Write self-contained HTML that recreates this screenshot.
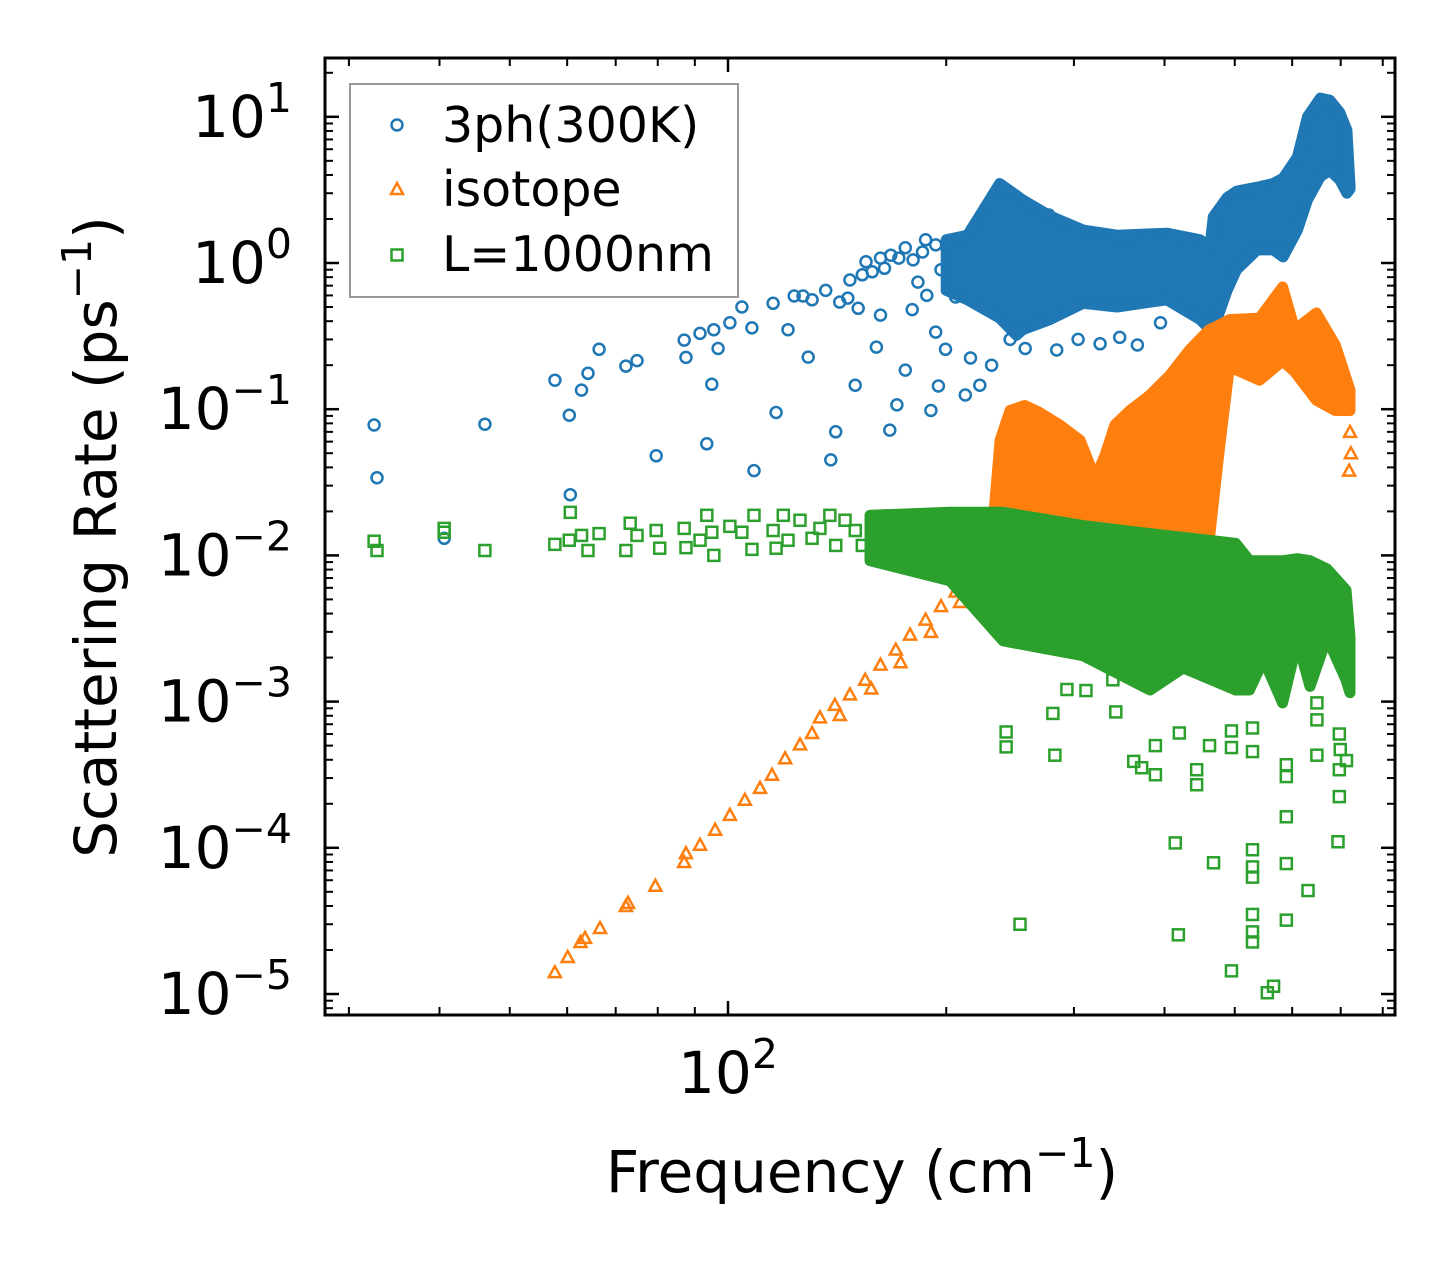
<!DOCTYPE html>
<html><head><meta charset="utf-8"><style>
html,body{margin:0;padding:0;background:#fff}
svg{display:block;font-family:"DejaVu Sans","Liberation Sans",sans-serif}
</style></head><body>
<svg id="chart" width="1455" height="1265" viewBox="0 0 1455 1265" xmlns="http://www.w3.org/2000/svg">
<rect x="0" y="0" width="1455" height="1265" fill="#fff"/>
<g id="marks"></g>
<g id="axes"></g>
<g id="legend">
 <rect x="350" y="84" width="388" height="213" fill="#fff" stroke="#999" stroke-width="2"/>
 <circle cx="397" cy="125" r="5.5" fill="none" stroke="#1f77b4" stroke-width="2.5"/>
 <text x="442" y="142" font-size="49">3ph(300K)</text>
 <path d="M397,183 L403,194 L391,194 Z" fill="none" stroke="#ff7f0e" stroke-width="2.5"/>
 <text x="442" y="206" font-size="49">isotope</text>
 <rect x="391.5" y="249.5" width="11" height="11" fill="none" stroke="#2ca02c" stroke-width="2.5"/>
 <text x="442" y="271" font-size="49">L=1000nm</text>
</g>
</svg>
<script>
// ---- data ----
const blueFreq = [32.5,32.8,40.6,46.2,57.7,60.4,60.6,62.8,64.1,66.4,72.3,74.9,79.6,87,87.5,91.5,93.5,95,95.6,96.9,100.6,104.5,107.9,108.6,115.4,116.5,121,123.4,126.9,129,130.6,136.4,138.6,140.8,142.6,146.3,149.8,151.2,153.2,158.1,160.2,162.3,164.4,167.2,171,172,175.6,179.5,182.8,185.5,188,190.5,193.4,195.1,199.5,206,212.5,216,222.5,231,245,257,277,284,304,326,347,367,395,147.3,155,162.3,167.7,175.6,180,187.3,193.4,196.7];
const blueRate = [0.078,0.034,0.0131,0.079,0.158,0.091,0.026,0.135,0.176,0.257,0.197,0.215,0.048,0.297,0.226,0.33,0.058,0.148,0.35,0.26,0.39,0.5,0.36,0.038,0.53,0.095,0.35,0.595,0.595,0.227,0.56,0.65,0.045,0.07,0.54,0.575,0.146,0.49,0.83,0.87,0.266,0.44,0.92,0.072,0.107,1.08,0.185,0.48,0.74,1.19,0.6,0.098,0.337,0.144,0.257,0.585,0.125,0.224,0.146,0.2,0.3,0.26,2.13,0.254,0.3,0.28,0.31,0.275,0.39,0.765,1.02,1.08,1.13,1.27,1.05,1.44,1.33,0.9];
const blueBandFreq = [200,214,237,250,255,278,309,344,403,448,462,467,488,503,537,565,583,610,630,656,676,698,714,721];
const blueBandUpper = [1.44,1.55,3.5,2.9,2.7,2.1,1.68,1.55,1.6,1.44,1.29,2.07,2.8,3.1,3.3,3.5,3.8,5.3,10,13.4,13,10.7,8.1,3.4];
const blueBandLower = [0.65,0.56,0.42,0.32,0.35,0.41,0.53,0.5,0.56,0.41,0.35,0.35,0.65,0.9,1.23,1.23,1.1,1.68,2.7,3.9,4.3,3.7,3.0,3.2];

const orangeFreq = [57.7,60.1,62.6,63.5,66.6,72.3,72.8,79.4,87,87.5,91.5,96,100.6,105.5,110.7,115,119.9,125.7,130.6,133.9,140.4,147.3,154.6,162.3,170.4,178.3,187.3,196.7,206,216,222.5,142.6,157.6,173,190.5,209,229.8,326,316,721,723,719];
const orangeRate = [1.41e-5,1.79e-5,2.27e-5,2.42e-5,2.83e-5,4.0e-5,4.2e-5,5.5e-5,8.0e-5,9.2e-5,1.05e-4,1.33e-4,1.68e-4,2.13e-4,2.57e-4,3.16e-4,4.1e-4,5.1e-4,6.1e-4,7.8e-4,9.5e-4,1.12e-3,1.41e-3,1.79e-3,2.27e-3,2.87e-3,3.64e-3,4.5e-3,5.66e-3,7.1e-3,8.6e-3,8.1e-4,1.23e-3,1.86e-3,3.0e-3,4.8e-3,6.8e-3,1.94e-3,2.7e-3,0.07,0.05,0.038];
const orangeBandFreq = [229.8,237.3,245,256.7,269,286.9,306,320.9,331,341.7,358.5,382,406.5,433,461,476,491.5,541,582,605,648,688,721];
const orangeBandUpper = [0.0092,0.0613,0.098,0.106,0.095,0.078,0.0613,0.0337,0.048,0.078,0.098,0.125,0.17,0.254,0.35,0.376,0.41,0.42,0.685,0.35,0.455,0.275,0.135];
const orangeBandLower = [0.0042,0.0049,0.0058,0.0067,0.0079,0.0092,0.0092,0.0092,0.0092,0.01,0.01,0.0108,0.0108,0.0117,0.0127,0.053,0.195,0.158,0.214,0.18,0.115,0.098,0.098];

const greenFreq = [32.5,32.8,40.6,40.6,46.2,57.7,60.4,60.6,62.8,64.1,66.4,72.3,73.3,74.9,79.6,80.5,87,87.5,91.5,93.5,95,95.6,100.6,104.5,107.9,108.6,115.4,116.5,119.2,121,125.7,130.6,133.9,138.2,140.8,145,149.8,153.2,158.1,162.3,167.7,173,178.9,184.2,190.5,196.7,202.4,209,216,222.5,
241.9,241.9,252.8,282.4,280.6,293.4,311.7,339.5,342.7,362.8,372,388.6,388.6,413.9,418,419.3,443,443,461.5,467.4,494.8,494.8,494.8,529,529,529,529,529,529,529,529,554.5,565.6,589,589,589,589,589,631,649,649,649,697,699,713,697,697,694];
const greenRate = [0.0125,0.0108,0.0153,0.0144,0.0108,0.0119,0.0127,0.0197,0.0137,0.0108,0.0141,0.0108,0.0166,0.0137,0.0148,0.0112,0.0153,0.0113,0.0127,0.0188,0.0144,0.01,0.0158,0.0144,0.011,0.0188,0.0148,0.0112,0.0188,0.0127,0.0174,0.0131,0.0153,0.0188,0.0117,0.0174,0.0148,0.0117,0.0168,0.0137,0.0112,0.0174,0.0148,0.0168,0.0127,0.0174,0.0137,0.0174,0.0166,0.0179,
4.9e-4,6.2e-4,3.0e-5,4.3e-4,8.3e-4,1.21e-3,1.19e-3,1.41e-3,8.5e-4,3.9e-4,3.53e-4,3.16e-4,5.0e-4,1.08e-4,2.54e-5,6.1e-4,3.42e-4,2.7e-4,5.0e-4,7.9e-5,6.3e-4,4.85e-4,1.44e-5,6.6e-4,4.55e-4,9.7e-5,7.4e-5,6.3e-5,3.5e-5,2.66e-5,2.27e-5,1.02e-5,1.13e-5,3.7e-4,3.07e-4,1.63e-4,7.8e-5,3.2e-5,5.1e-5,9.8e-4,7.5e-4,4.3e-4,6.0e-4,4.7e-4,3.95e-4,3.42e-4,2.24e-4,1.1e-4];
const greenBandFreq = [157,202.4,239.6,308.8,382,424.5,501.5,524,548,582,610,635,670,712,721];
const greenBandUpper = [0.0188,0.0197,0.0197,0.016,0.0141,0.0133,0.0121,0.0092,0.0092,0.0092,0.0095,0.0092,0.0081,0.0058,0.00275];
const greenBandLower = [0.0092,0.0067,0.0026,0.00206,0.0012,0.0017,0.0012,0.0012,0.00194,0.00098,0.0026,0.00127,0.00275,0.00141,0.00115];

const yTickExps = [1,0,-1,-2,-3,-4,-5];
const xTickExps = [2];

// ---- axes functions ----
const PL=325, PR=1395, PT=58, PB=1015;
const X0=728, XD=725;
const Y0=263, YD=146.2;
function xs(f){ return X0 + (Math.log10(f)-2)*XD; }
function ys(r){ return Y0 - Math.log10(r)*YD; }

const NS='http://www.w3.org/2000/svg';
const marks=document.getElementById('marks');
const axes=document.getElementById('axes');
function mk(tag, attrs, parent){
  const e=document.createElementNS(NS,tag);
  for(const k in attrs) e.setAttribute(k, attrs[k]);
  parent.appendChild(e); return e;
}

const clip=mk('clipPath',{id:'pc'},marks);
mk('rect',{x:PL,y:PT,width:PR-PL,height:PB-PT},clip);
const plot=mk('g',{'clip-path':'url(#pc)'},marks);

function band(freqs, up, lo, color, name){
  let pts=[];
  for(let i=0;i<freqs.length;i++) pts.push(xs(freqs[i]).toFixed(1)+','+ys(up[i]).toFixed(1));
  for(let i=freqs.length-1;i>=0;i--) pts.push(xs(freqs[i]).toFixed(1)+','+ys(lo[i]).toFixed(1));
  const p=mk('polygon',{points:pts.join(' '),fill:color,stroke:color,'stroke-width':11,'stroke-linejoin':'round'},plot);
  
  
}
function circles(fr, rt, color){
  for(let i=0;i<fr.length;i++){
    const c=mk('circle',{cx:xs(fr[i]).toFixed(1),cy:ys(rt[i]).toFixed(1),r:5.5,fill:'none',stroke:color,'stroke-width':2.5},plot);
    
    
  }
}
function tris(fr, rt, color){
  for(let i=0;i<fr.length;i++){
    const x=xs(fr[i]), y=ys(rt[i]);
    const t=mk('path',{d:`M${x},${y-6} L${x+6},${y+5} L${x-6},${y+5} Z`,fill:'none',stroke:color,'stroke-width':2.5},plot);
    
    
  }
}
function squares(fr, rt, color){
  for(let i=0;i<fr.length;i++){
    const x=xs(fr[i]), y=ys(rt[i]);
    const s=mk('rect',{x:x-5.5,y:y-5.5,width:11,height:11,fill:'none',stroke:color,'stroke-width':2.5},plot);
    
    
  }
}
band(blueBandFreq, blueBandUpper, blueBandLower, '#1f77b4', 'band-3ph');
circles(blueFreq, blueRate, '#1f77b4');
band(orangeBandFreq, orangeBandUpper, orangeBandLower, '#ff7f0e', 'band-isotope');
tris(orangeFreq, orangeRate, '#ff7f0e');
band(greenBandFreq, greenBandUpper, greenBandLower, '#2ca02c', 'band-boundary');
squares(greenFreq, greenRate, '#2ca02c');

const fr=mk('rect',{x:PL,y:PT,width:PR-PL,height:PB-PT,fill:'none',stroke:'#000','stroke-width':3},axes);



for(let e=-6;e<=2;e++){
  for(let m=1;m<=9;m++){
    const y=ys(m*Math.pow(10,e));
    if(y<PT||y>PB) continue;
    const L=m===1?14:8;
    const a=mk('line',{x1:PL,x2:PL+L,y1:y,y2:y,stroke:'#000','stroke-width':m===1?2.5:2},axes);
    
    
    const b=mk('line',{x1:PR,x2:PR-L,y1:y,y2:y,stroke:'#000','stroke-width':m===1?2.5:2},axes);
    
    
  }
}
yTickExps.forEach(e=>{
  const y=ys(Math.pow(10,e));
  const t=mk('text',{x:200,y:y+20,'font-size':58},axes);
  
  
  t.textContent='10';
  const s=mk('tspan',{'font-size':41,dy:-25},t);
  s.textContent=(e<0?'\u2212':'')+Math.abs(e);
  const w = t.getComputedTextLength ? t.getComputedTextLength() : 100;
  t.setAttribute('x', 292 - w);
});
for(let e=1;e<=3;e++){
  for(let m=1;m<=9;m++){
    const x=xs(m*Math.pow(10,e));
    if(x<PL||x>PR) continue;
    const L=m===1?14:8;
    const a=mk('line',{x1:x,x2:x,y1:PB,y2:PB-L,stroke:'#000','stroke-width':m===1?2.5:2},axes);
    
    
    const b=mk('line',{x1:x,x2:x,y1:PT,y2:PT+L,stroke:'#000','stroke-width':m===1?2.5:2},axes);
    
    
  }
}
xTickExps.forEach(e=>{
  const x=xs(Math.pow(10,e));
  const t=mk('text',{x:x-50,y:1093,'font-size':58},axes);
  
  
  t.textContent='10';
  const s=mk('tspan',{'font-size':41,dy:-25},t);
  s.textContent=String(e);
});
const xt=mk('text',{x:862,y:1192,'font-size':58,'text-anchor':'middle'},axes);


xt.textContent='Frequency (cm';
let s1=mk('tspan',{'font-size':41,dy:-25},xt); s1.textContent='\u22121';
let s2=mk('tspan',{dy:25},xt); s2.textContent=')';
const yt=mk('text',{x:0,y:0,'font-size':58,'text-anchor':'middle',transform:'translate(116,537) rotate(-90)'},axes);


yt.textContent='Scattering Rate (ps';
let s3=mk('tspan',{'font-size':41,dy:-25},yt); s3.textContent='\u22121';
let s4=mk('tspan',{dy:25},yt); s4.textContent=')';
</script>
</body></html>
